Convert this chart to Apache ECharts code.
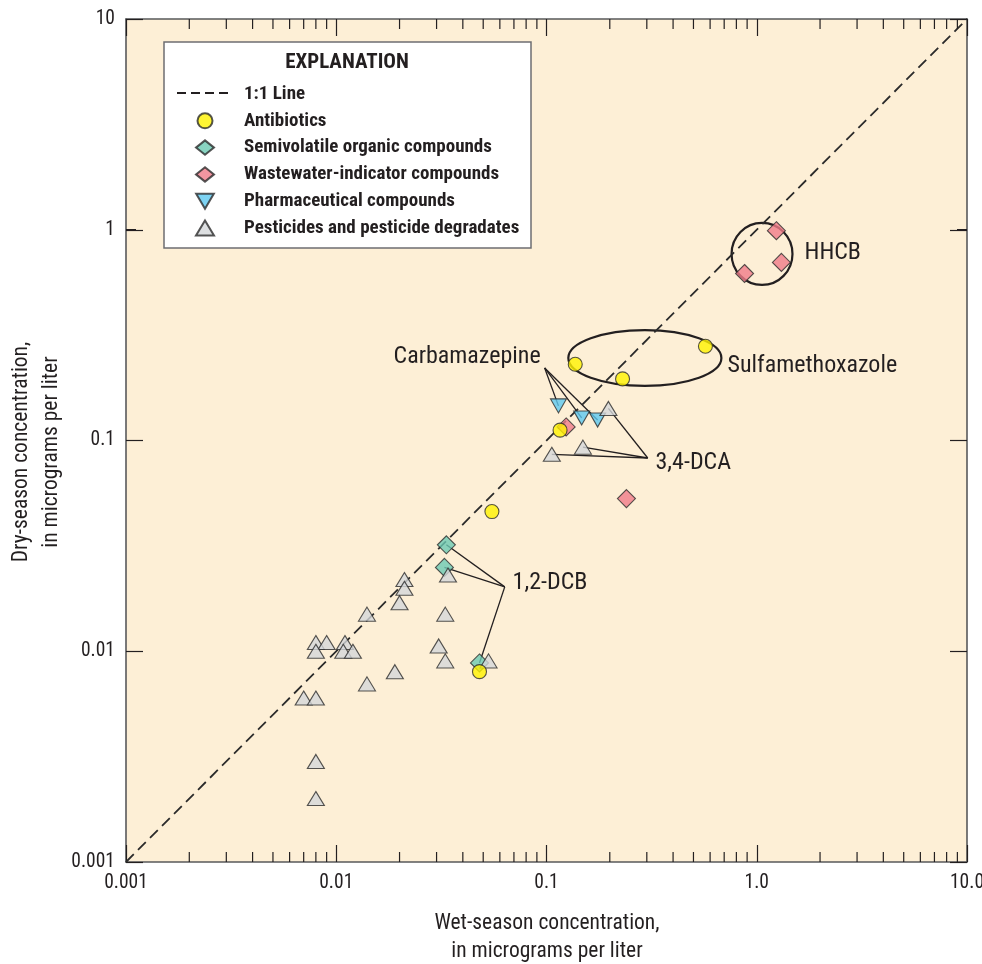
<!DOCTYPE html>
<html><head><meta charset="utf-8">
<script src="https://cdn.jsdelivr.net/npm/echarts@6/dist/echarts.min.js"></script>
<style>html,body{margin:0;padding:0;background:#fff}#c{width:982px;height:964px}</style>
</head><body><div id="c"></div>
<script>
// ---------- data ----------
const xTickLabels = ['0.001', '0.01', '0.1', '1.0', '10.0'];
const yTickLabels = ['0.001', '0.01', '0.1', '1', '10'];
const oneToOne = [[0.001, 0.001], [10, 10]];
const antibiotics = [[0.048, 0.008], [0.055, 0.046], [0.116, 0.112], [0.137, 0.23], [0.23, 0.196], [0.57, 0.28]];
const semivolatile = [[0.0334, 0.032], [0.0327, 0.025], [0.048, 0.0088]];
const wastewater = [[1.24, 0.99], [0.875, 0.62], [1.31, 0.70], [0.24, 0.053], [0.124, 0.116]];
const pharmaceutical = [[0.114, 0.146], [0.147, 0.128], [0.175, 0.125]];
const pesticides = [
  [0.197, 0.142], [0.149, 0.093], [0.106, 0.086],
  [0.0211, 0.0219], [0.0211, 0.0199], [0.020, 0.017], [0.014, 0.015],
  [0.034, 0.023], [0.033, 0.015], [0.0307, 0.0106], [0.033, 0.009], [0.053, 0.009],
  [0.019, 0.008], [0.014, 0.007],
  [0.008, 0.011], [0.009, 0.011], [0.011, 0.011], [0.008, 0.010], [0.0108, 0.010], [0.012, 0.010],
  [0.007, 0.006], [0.008, 0.006], [0.008, 0.003], [0.008, 0.002]
];
const legendNames = ['1:1 Line', 'Antibiotics', 'Semivolatile organic compounds', 'Wastewater-indicator compounds', 'Pharmaceutical compounds', 'Pesticides and pesticide degradates'];

// annotation anchors (data coordinates)
const ellipseHHCB = { x: [0.759, 1.479], y: [0.547, 1.077] };
const ellipseSulfa = { x: [0.127, 0.679], y: [0.1815, 0.334] };
const leaderCarba = { from: [0.098, 0.221], to: pharmaceutical };
const leaderDCA = { from: [0.303, 0.0826], to: [pesticides[0], pesticides[1], pesticides[2]] };
const leaderDCB = { from: [0.0633, 0.0202], to: semivolatile };
const labels = [
  { text: 'HHCB', at: [1.687, 0.776], align: 'left' },
  { text: 'Sulfamethoxazole', at: [0.726, 0.2257], align: 'left' },
  { text: 'Carbamazepine', at: [0.0938, 0.249], align: 'right' },
  { text: '3,4-DCA', at: [0.330, 0.078], align: 'left' },
  { text: '1,2-DCB', at: [0.069, 0.0211], align: 'left' }
];

// axis decoration: minor log ticks 2..9 per decade
const minorTicks = [];
for (let e = -3; e < 1; e++) for (let m = 2; m <= 9; m++) minorTicks.push(+(m * Math.pow(10, e)).toPrecision(3));

const FONT = "'Roboto Condensed', 'DejaVu Sans Condensed', sans-serif";
const INK = '#231F20';
const AX = '#58595B';

const chart = echarts.init(document.getElementById('c'), null, { renderer: 'canvas' });

function axisCommon(pos, showLabel, labelsArr) {
  return {
    type: 'log', logBase: 10, min: 0.001, max: 10, position: pos,
    axisLine: { show: true, onZero: false, lineStyle: { color: AX, width: 1.6 } },
    axisTick: { show: true, inside: true, length: 17, lineStyle: { color: INK, width: 1.2 } },
    splitLine: { show: false },
    axisLabel: {
      show: showLabel, margin: 11, color: INK, fontFamily: FONT, fontSize: 19.5,
      formatter: function (v) { const i = Math.round(Math.log10(v)) + 3; return labelsArr ? labelsArr[i] : ''; }
    }
  };
}

function renderMinor(params, api) {
  const v = api.value(0);
  const kind = api.value(2);
  const w = { stroke: INK, lineWidth: 1.2 };
  if (kind === 0) {
    const b = api.coord([v, 0.001]), t = api.coord([v, 10]);
    return { type: 'group', children: [
      { type: 'line', shape: { x1: b[0], y1: b[1], x2: b[0], y2: b[1] - 10 }, style: w },
      { type: 'line', shape: { x1: t[0], y1: t[1], x2: t[0], y2: t[1] + 10 }, style: w }
    ] };
  } else {
    const l = api.coord([0.001, v]), r = api.coord([10, v]);
    return { type: 'group', children: [
      { type: 'line', shape: { x1: l[0], y1: l[1], x2: l[0] + 10, y2: l[1] }, style: w },
      { type: 'line', shape: { x1: r[0], y1: r[1], x2: r[0] - 10, y2: r[1] }, style: w }
    ] };
  }
}
const minorData = minorTicks.map(v => [v, 1, 0]).concat(minorTicks.map(v => [1, v, 1]));

function renderAnno(params, api) {
  const children = [];
  [ellipseHHCB, ellipseSulfa].forEach(e => {
    const p1 = api.coord([e.x[0], e.y[1]]), p2 = api.coord([e.x[1], e.y[0]]);
    children.push({ type: 'ellipse', shape: { cx: (p1[0] + p2[0]) / 2, cy: (p1[1] + p2[1]) / 2, rx: Math.abs(p2[0] - p1[0]) / 2, ry: Math.abs(p2[1] - p1[1]) / 2 }, style: { stroke: INK, lineWidth: 2.2, fill: null } });
  });
  [leaderCarba, leaderDCA, leaderDCB].forEach(L => {
    const o = api.coord(L.from);
    L.to.forEach(t => {
      const q = api.coord(t);
      children.push({ type: 'line', shape: { x1: o[0], y1: o[1], x2: q[0], y2: q[1] }, style: { stroke: INK, lineWidth: 1.3 } });
    });
  });
  labels.forEach(lb => {
    const p = api.coord(lb.at);
    children.push({ type: 'text', x: p[0], y: p[1], style: { text: lb.text, fill: INK, font: "24px " + FONT, align: lb.align, verticalAlign: 'middle' } });
  });
  return { type: 'group', children };
}

const stroke = { borderColor: '#2B2B2B', borderWidth: 1.1 };
const diamondIcon = 'path://M10,0L20,8L10,16L0,8Z';

chart.setOption({
  animation: false,
  backgroundColor: '#ffffff',
  grid: { left: 126, top: 19, width: 841, height: 843, show: true, backgroundColor: '#FDEFD6', borderWidth: 0, outerBoundsMode: 'none', containLabel: false },
  xAxis: [axisCommon('bottom', true, xTickLabels), axisCommon('top', false, null)],
  yAxis: [axisCommon('left', true, yTickLabels), axisCommon('right', false, null)],
  legend: {
    left: 195, top: 84.5, padding: 0, orient: 'vertical', itemWidth: 18, itemHeight: 15, itemGap: 7.8,
    data: [
      { name: legendNames[0], itemStyle: { opacity: 0 }, lineStyle: { opacity: 0 } },
      legendNames[1],
      { name: legendNames[2], icon: diamondIcon },
      { name: legendNames[3], icon: diamondIcon },
      { name: legendNames[4], icon: 'path://M0,0L20,0L10,17Z' },
      legendNames[5]
    ],
    selectedMode: false, z: 10,
    textStyle: { fontFamily: FONT, fontWeight: 'bold', fontSize: 19, color: INK, lineHeight: 17, padding: [0, 0, 0, 25] }
  },
  graphic: [
    { type: 'rect', shape: { x: 164, y: 42, width: 367, height: 206 }, style: { fill: '#ffffff', stroke: '#6D6E71', lineWidth: 1.5 }, z: 9 },
    { type: 'line', shape: { x1: 177, y1: 93, x2: 231, y2: 93 }, style: { stroke: INK, lineWidth: 1.8, lineDash: [9, 5] }, z: 11 },
    { type: 'text', x: 347, y: 63, z: 11, style: { text: 'EXPLANATION', font: "bold 21px " + FONT, fill: INK, align: 'center', verticalAlign: 'middle' } },
    { type: 'text', x: 547, y: 937.5, style: { text: 'Wet-season concentration,\nin micrograms per liter', font: "21.5px " + FONT, fill: INK, align: 'center', verticalAlign: 'middle', lineHeight: 28 } },
    { type: 'text', x: 37, y: 452, rotation: Math.PI / 2, style: { text: 'Dry-season concentration,\nin micrograms per liter', font: "21.5px " + FONT, fill: INK, align: 'center', verticalAlign: 'middle', lineHeight: 30 } }
  ],
  series: [
    { type: 'custom', name: 'minor', coordinateSystem: 'cartesian2d', renderItem: renderMinor, data: minorData, silent: true, clip: false, z: 3 },
    { type: 'custom', name: 'anno', coordinateSystem: 'cartesian2d', renderItem: renderAnno, data: [[1, 1]], silent: true, clip: false, z: 2 },
    { type: 'line', name: '1:1 Line', data: oneToOne, symbol: 'none', lineStyle: { color: '#2B2B2B', width: 1.8, type: [11, 6] }, z: 2 },
    { type: 'scatter', name: 'Wastewater-indicator compounds', data: wastewater, symbol: 'diamond', symbolSize: 18, itemStyle: Object.assign({ color: '#F07C89' }, stroke), z: 4 },
    { type: 'scatter', name: 'Semivolatile organic compounds', data: semivolatile, symbol: 'diamond', symbolSize: 18, itemStyle: Object.assign({ color: '#6CC9B3' }, stroke), z: 4 },
    { type: 'scatter', name: 'Pharmaceutical compounds', data: pharmaceutical, symbol: 'triangle', symbolRotate: 180, symbolSize: [16, 14], itemStyle: Object.assign({ color: '#5CC8F0' }, stroke), z: 5 },
    { type: 'scatter', name: 'Pesticides and pesticide degradates', data: pesticides, symbol: 'triangle', symbolSize: [17, 14], itemStyle: Object.assign({ color: '#D5D7DA' }, stroke), z: 5 },
    { type: 'scatter', name: 'Antibiotics', data: antibiotics, symbol: 'circle', symbolSize: 14, itemStyle: Object.assign({ color: '#FFF200' }, stroke), z: 6 }
  ]
});
</script></body></html>
